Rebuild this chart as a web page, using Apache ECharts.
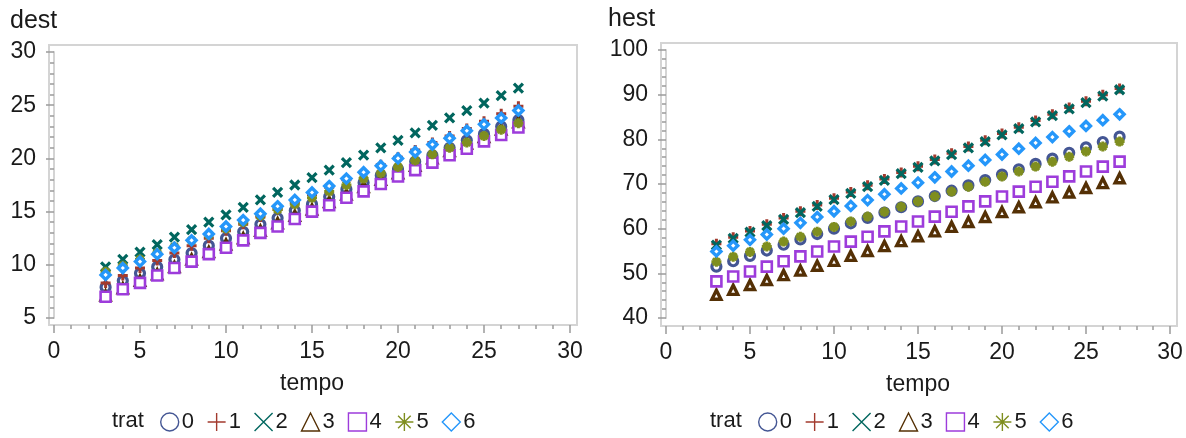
<!DOCTYPE html>
<html>
<head>
<meta charset="utf-8">
<script src="https://cdn.jsdelivr.net/npm/echarts@6/dist/echarts.min.js"></script>
<style>
  html, body { margin: 0; padding: 0; background: #fff; }
  #chart { width: 1186px; height: 438px; }
</style>
</head>
<body>
<div id="chart"></div>
<script>
// tempo values (x) shared by both panels
const tempo = [3, 4, 5, 6, 7, 8, 9, 10, 11, 12, 13, 14, 15, 16, 17, 18, 19, 20, 21, 22, 23, 24, 25, 26, 27];

// trat groups
const tratLevels = ['0', '1', '2', '3', '4', '5', '6'];

// dest by trat
const dest0 = [7.9, 8.5, 9.2, 9.8, 10.5, 11.1, 11.8, 12.5, 13.1, 13.8, 14.4, 15.1, 15.7, 16.4, 17.1, 17.7, 18.4, 19.0, 19.7, 20.3, 21.0, 21.7, 22.3, 23.0, 23.6];
const dest1 = [8.3, 9.0, 9.7, 10.4, 11.1, 11.8, 12.5, 13.2, 13.8, 14.5, 15.2, 15.9, 16.6, 17.3, 18.0, 18.7, 19.4, 20.1, 20.8, 21.5, 22.1, 22.8, 23.5, 24.2, 24.9];
const dest2 = [9.8, 10.5, 11.2, 11.9, 12.6, 13.3, 14.0, 14.7, 15.4, 16.1, 16.8, 17.5, 18.2, 18.9, 19.6, 20.3, 21.0, 21.7, 22.4, 23.1, 23.8, 24.5, 25.2, 25.9, 26.6];
const dest3 = [7.1, 7.8, 8.5, 9.1, 9.8, 10.5, 11.2, 11.9, 12.5, 13.2, 13.9, 14.6, 15.2, 15.9, 16.6, 17.3, 18.0, 18.6, 19.3, 20.0, 20.7, 21.4, 22.0, 22.7, 23.4];
const dest4 = [7.0, 7.7, 8.3, 9.0, 9.7, 10.3, 11.0, 11.6, 12.3, 13.0, 13.6, 14.3, 15.0, 15.6, 16.3, 16.9, 17.6, 18.3, 18.9, 19.6, 20.3, 20.9, 21.6, 22.2, 22.9];
const dest5 = [9.35, 9.9, 10.5, 11.1, 11.7, 12.3, 12.8, 13.4, 14.0, 14.6, 15.2, 15.7, 16.3, 16.9, 17.5, 18.1, 18.6, 19.2, 19.8, 20.4, 21.0, 21.5, 22.1, 22.7, 23.3];
const dest6 = [9.05, 9.7, 10.3, 11.0, 11.6, 12.3, 12.9, 13.6, 14.2, 14.8, 15.5, 16.1, 16.8, 17.4, 18.1, 18.7, 19.3, 20.0, 20.6, 21.3, 21.9, 22.6, 23.2, 23.8, 24.5];

// hest by trat
const hest0 = [51.5, 52.7, 53.9, 55.1, 56.4, 57.6, 58.8, 60.0, 61.2, 62.4, 63.6, 64.8, 66.1, 67.3, 68.5, 69.7, 70.9, 72.1, 73.3, 74.5, 75.7, 77.0, 78.2, 79.4, 80.6];
const hest1 = [56.6, 58.1, 59.5, 61.0, 62.4, 63.9, 65.3, 66.8, 68.2, 69.7, 71.1, 72.6, 74.0, 75.5, 76.9, 78.4, 79.8, 81.3, 82.7, 84.2, 85.6, 87.1, 88.5, 90.0, 91.4];
const hest2 = [56.3, 57.8, 59.2, 60.7, 62.1, 63.6, 65.0, 66.5, 67.9, 69.4, 70.8, 72.3, 73.7, 75.2, 76.6, 78.1, 79.5, 81.0, 82.4, 83.9, 85.3, 86.8, 88.2, 89.7, 91.1];
const hest3 = [45.2, 46.3, 47.4, 48.5, 49.6, 50.6, 51.7, 52.8, 53.9, 55.0, 56.1, 57.2, 58.3, 59.4, 60.4, 61.5, 62.6, 63.7, 64.8, 65.9, 67.0, 68.1, 69.1, 70.2, 71.3];
const hest4 = [48.2, 49.3, 50.4, 51.5, 52.7, 53.8, 54.9, 56.0, 57.1, 58.2, 59.4, 60.5, 61.6, 62.7, 63.8, 65.0, 66.1, 67.2, 68.3, 69.4, 70.5, 71.7, 72.8, 73.9, 75.0];
const hest5 = [52.6, 53.7, 54.8, 56.0, 57.1, 58.2, 59.3, 60.4, 61.6, 62.7, 63.8, 64.9, 66.1, 67.2, 68.3, 69.4, 70.5, 71.7, 72.8, 73.9, 75.0, 76.1, 77.3, 78.4, 79.5];
const hest6 = [54.9, 56.2, 57.5, 58.7, 60.0, 61.3, 62.6, 63.9, 65.1, 66.4, 67.7, 69.0, 70.3, 71.5, 72.8, 74.1, 75.4, 76.6, 77.9, 79.2, 80.5, 81.8, 83.0, 84.3, 85.6];

// axis ticks
const xTicks = [0, 5, 10, 15, 20, 25, 30];
const destTicks = [5, 10, 15, 20, 25, 30];
const hestTicks = [40, 50, 60, 70, 80, 90, 100];

const destGroups = [dest0, dest1, dest2, dest3, dest4, dest5, dest6];
const hestGroups = [hest0, hest1, hest2, hest3, hest4, hest5, hest6];

const COLORS = ['#445694', '#A23A2E', '#01665E', '#543005', '#9D3CDB', '#7F8E1F', '#2597FA'];
const SYMBOLS = [
  'circle',
  'path://M5,0L5,10M0,5L10,5',
  'path://M0,0L10,10M0,10L10,0',
  'triangle',
  'rect',
  'path://M5,0L5,10M0,5L10,5M1.5,1.5L8.5,8.5M1.5,8.5L8.5,1.5',
  'diamond'
];
// marker size / stroke per group
const MARK_SIZE = [9, 10, 9, 9, 10, 10, 9];
const MARK_STROKE = [3.2, 3, 3.2, 3.4, 2.6, 3, 3.4];

const FONT = '"Liberation Sans", Arial, Helvetica, sans-serif';
const TEXT = '#1a1a1a';
const FRAME = '#d4d4d4';
const TICK = '#9a9a9a';

const chart = echarts.init(document.getElementById('chart'), null, { renderer: 'canvas' });

function xAxisCfg(gridIndex, offset) {
  return {
    gridIndex, type: 'value', min: xTicks[0], max: xTicks[xTicks.length - 1], interval: 5,
    offset,
    name: 'tempo', nameLocation: 'middle', nameGap: 47,
    nameTextStyle: { fontFamily: FONT, fontSize: 23, color: TEXT },
    axisLine: { show: true, lineStyle: { color: FRAME, width: 2 } },
    axisTick: { show: true, length: 8, lineStyle: { color: TICK, width: 1.5 } },
    minorTick: { show: true, splitNumber: 5, length: 4, lineStyle: { color: TICK, width: 1.5 } },
    axisLabel: { margin: 15, fontFamily: FONT, fontSize: 23, color: TEXT },
    splitLine: { show: false }
  };
}
function yAxisCfg(gridIndex, ticks, interval, offset) {
  return {
    gridIndex, type: 'value', min: ticks[0], max: ticks[ticks.length - 1], interval,
    offset,
    axisLine: { show: true, lineStyle: { color: FRAME, width: 2 } },
    axisTick: { show: true, length: 8, lineStyle: { color: TICK, width: 1.5 } },
    minorTick: { show: true, splitNumber: 5, length: 4, lineStyle: { color: TICK, width: 1.5 } },
    axisLabel: { margin: 13, fontFamily: FONT, fontSize: 23, color: TEXT },
    splitLine: { show: false }
  };
}

const series = [];
[destGroups, hestGroups].forEach((groups, p) => {
  groups.forEach((vals, g) => {
    series.push({
      type: 'scatter', name: tratLevels[g],
      xAxisIndex: p, yAxisIndex: p,
      symbol: SYMBOLS[g], symbolSize: MARK_SIZE[g],
      itemStyle: { color: '#fff', borderColor: COLORS[g], borderWidth: MARK_STROKE[g], opacity: 1 },
      emphasis: { disabled: true },
      data: tempo.map((t, i) => [t, vals[i]])
    });
  });
});

function legendCfg(left) {
  return {
    left, top: 406, orient: 'horizontal',
    itemWidth: 18, itemHeight: 18, itemGap: 13,
    selectedMode: false,
    textStyle: { fontFamily: FONT, fontSize: 22, color: TEXT, padding: [0, 0, 0, -2] },
    data: tratLevels.map((n, g) => ({
      name: n, icon: SYMBOLS[g],
      itemStyle: { color: 'rgba(0,0,0,0)', borderColor: COLORS[g], borderWidth: 1.4 }
    }))
  };
}

// plot frames
const frames = [
  { x: 49, y: 45, w: 528, h: 280 },
  { x: 661, y: 43, w: 516, h: 283 }
];

chart.setOption({
  animation: false,
  backgroundColor: '#fff',
  grid: [
    { left: 54, top: 52, width: 516, height: 266 },
    { left: 666, top: 50, width: 504, height: 268 }
  ],
  xAxis: [xAxisCfg(0, 7), xAxisCfg(1, 8)],
  yAxis: [yAxisCfg(0, destTicks, 5, 5), yAxisCfg(1, hestTicks, 10, 5)],
  legend: [legendCfg(155), legendCfg(753)],
  graphic: [
    ...frames.map(f => ({
      type: 'rect', z: -1, silent: true,
      shape: { x: f.x, y: f.y, width: f.w, height: f.h },
      style: { fill: '#fff', stroke: FRAME, lineWidth: 2 }
    })),
    { type: 'text', left: 10, top: 9, style: { text: 'dest', font: '25px ' + FONT, fill: TEXT } },
    { type: 'text', left: 608, top: 7, style: { text: 'hest', font: '25px ' + FONT, fill: TEXT } },
    { type: 'text', left: 112, top: 410, style: { text: 'trat', font: '22px ' + FONT, fill: TEXT } },
    { type: 'text', left: 710, top: 410, style: { text: 'trat', font: '22px ' + FONT, fill: TEXT } }
  ],
  series
});
</script>
</body>
</html>
